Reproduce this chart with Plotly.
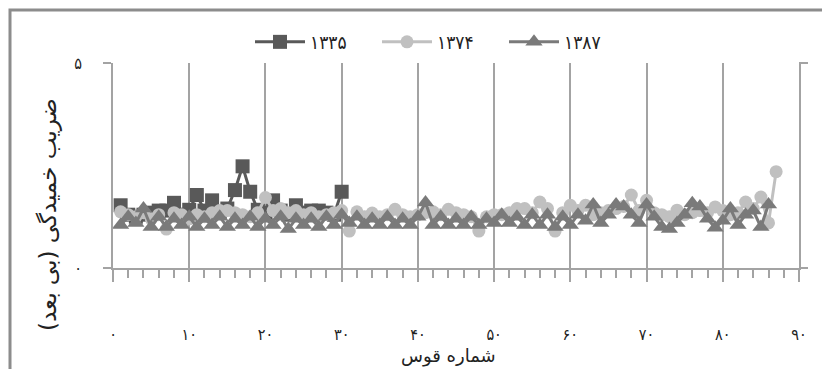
import plotly.graph_objects as go

# ---------------- data ----------------
x_1335 = list(range(1, 31))
y_1335 = [1.53, 1.30, 1.25, 1.30, 1.35, 1.40, 1.40, 1.59, 1.30, 1.42,
          1.78, 1.40, 1.65, 1.35, 1.45, 1.90, 2.48, 1.86, 1.42, 1.35,
          1.65, 1.40, 1.30, 1.53, 1.35, 1.40, 1.40, 1.35, 1.30, 1.86]

x_1374 = list(range(1, 88))
y_1374 = [1.37, 1.30, 1.25, 1.35, 1.20, 1.30, 0.95, 1.35, 1.30, 1.20,
          1.30, 1.25, 1.35, 1.40, 1.40, 1.35, 1.30, 1.25, 1.35, 1.72,
          1.40, 1.45, 1.35, 1.40, 1.30, 1.35, 1.25, 1.30, 1.35, 1.40,
          0.90, 1.37, 1.25, 1.34, 1.25, 1.30, 1.43, 1.30, 1.25, 1.30,
          1.35, 1.37, 1.30, 1.43, 1.35, 1.30, 1.25, 0.90, 1.25, 1.30,
          1.30, 1.35, 1.45, 1.45, 1.35, 1.61, 1.45, 0.90, 1.35, 1.53,
          1.40, 1.53, 1.30, 1.35, 1.40, 1.45, 1.50, 1.78, 1.40, 1.65,
          1.35, 1.30, 1.25, 1.41, 1.30, 1.35, 1.40, 1.35, 1.49, 1.40,
          1.30, 1.35, 1.61, 1.45, 1.73, 1.10, 2.35]

x_1387 = list(range(1, 87))
y_1387 = [1.05, 1.25, 1.10, 1.45, 1.00, 1.25, 1.00, 1.20, 1.05, 1.25,
          1.00, 1.20, 1.05, 1.25, 1.00, 1.20, 1.05, 1.25, 1.00, 1.20,
          1.05, 1.25, 0.95, 1.20, 1.05, 1.20, 1.00, 1.25, 1.05, 1.30,
          1.10, 1.25, 1.05, 1.20, 1.05, 1.25, 1.05, 1.20, 1.05, 1.25,
          1.60, 1.05, 1.25, 1.05, 1.20, 1.05, 1.25, 1.05, 1.20, 1.10,
          1.30, 1.10, 1.25, 1.05, 1.30, 1.05, 1.30, 1.00, 1.25, 1.05,
          1.30, 1.15, 1.55, 1.10, 1.30, 1.55, 1.50, 1.30, 1.10, 1.55,
          1.25, 1.00, 0.95, 1.10, 1.30, 1.58, 1.50, 1.20, 0.98, 1.15,
          1.45, 1.05, 1.30, 1.40, 1.00, 1.55]

series_names = ["۱۳۳۵", "۱۳۷۴", "۱۳۸۷"]
x_tickvals = [0, 10, 20, 30, 40, 50, 60, 70, 80, 90]
x_ticktext = ["۰", "۱۰", "۲۰", "۳۰", "۴۰", "۵۰", "۶۰", "۷۰", "۸۰", "۹۰"]
y_tickvals = [0, 5]
y_ticktext = ["۰", "۵"]
x_title = "شماره قوس"
y_title = "ضریب خمیدگی (بی بعد)"

# ---------------- figure ----------------
W, H = 822, 369
L, R, T, B = 113, 23, 63, 101
pw, ph = W - L - R, H - T - B

def px2x(p):
    return (p - L) / pw

def px2y(p):
    return (H - B - p) / ph

FONT = "DejaVu Sans Condensed, DejaVu Sans, sans-serif"
TFONT = "DejaVu Sans, sans-serif"
GRID = "#a3a3a3"

fig = go.Figure()
fig.add_trace(go.Scatter(x=x_1335, y=y_1335, name=series_names[0], mode="lines+markers",
                         line=dict(color="#595959", width=3),
                         marker=dict(symbol="square", size=14, color="#595959")))
fig.add_trace(go.Scatter(x=x_1374, y=y_1374, name=series_names[1], mode="lines+markers",
                         line=dict(color="#c0c0c0", width=3),
                         marker=dict(symbol="circle", size=13, color="#c0c0c0")))
fig.add_trace(go.Scatter(x=x_1387, y=y_1387, name=series_names[2], mode="lines+markers",
                         line=dict(color="#7a7a7a", width=3),
                         marker=dict(symbol="triangle-up", size=15, color="#7a7a7a")))

fig.update_layout(
    width=W, height=H,
    margin=dict(l=L, r=R, t=T, b=B, pad=0, autoexpand=False),
    paper_bgcolor="white", plot_bgcolor="white",
    font=dict(family=FONT, size=13, color="#222"),
    showlegend=True,
    legend=dict(orientation="h", x=px2x(250), y=px2y(42), xanchor="left", yanchor="middle",
                font=dict(size=19, color="#222"), itemwidth=50, tracegroupgap=0,
                entrywidth=62, entrywidthmode="pixels",
                bgcolor="rgba(0,0,0,0)"),
    xaxis=dict(range=[0, 90], tickvals=x_tickvals, ticktext=x_ticktext,
               showgrid=True, gridcolor=GRID, gridwidth=1.5,
               showline=True, linecolor=GRID, linewidth=2, mirror=False,
               ticks="outside", ticklen=12, tickcolor=GRID, tickwidth=1.5,
               minor=dict(dtick=2, ticks="outside", ticklen=8, tickcolor=GRID, tickwidth=1.5, showgrid=False),
               ticklabelstandoff=39, tickfont=dict(size=16, color="#222"),
               zeroline=False, fixedrange=True),
    yaxis=dict(range=[0, 5], tickvals=y_tickvals, ticktext=y_ticktext,
               showgrid=True, gridcolor=GRID, gridwidth=2,
               showline=True, linecolor=GRID, linewidth=1.5, mirror=True,
               ticks="outside", ticklen=8, tickcolor=GRID, tickwidth=2,
               ticklabelstandoff=18, tickfont=dict(size=16, color="#222"),
               zeroline=False, fixedrange=True),
)

# axis line extensions to the right (as in reference)
for yy in (0, 1):
    fig.add_shape(type="line", xref="paper", yref="paper", x0=1, x1=px2x(808), y0=yy, y1=yy,
                  line=dict(color=GRID, width=2), layer="below")

# outer chart frame
fig.add_shape(type="rect", xref="paper", yref="paper",
              x0=px2x(10), x1=px2x(840), y0=px2y(400), y1=px2y(10),
              line=dict(color="#8c8c8c", width=3), fillcolor="rgba(0,0,0,0)", layer="below")

fig.add_annotation(text=x_title, xref="paper", yref="paper", x=px2x(448), y=px2y(356),
                   showarrow=False, font=dict(family=TFONT, size=18, color="#222"),
                   xanchor="center", yanchor="middle")
fig.add_annotation(text=y_title, xref="paper", yref="paper", x=px2x(48), y=px2y(215),
                   showarrow=False, textangle=-90, font=dict(family=TFONT, size=23, color="#222"),
                   xanchor="center", yanchor="middle")

fig.write_html("out.html")
